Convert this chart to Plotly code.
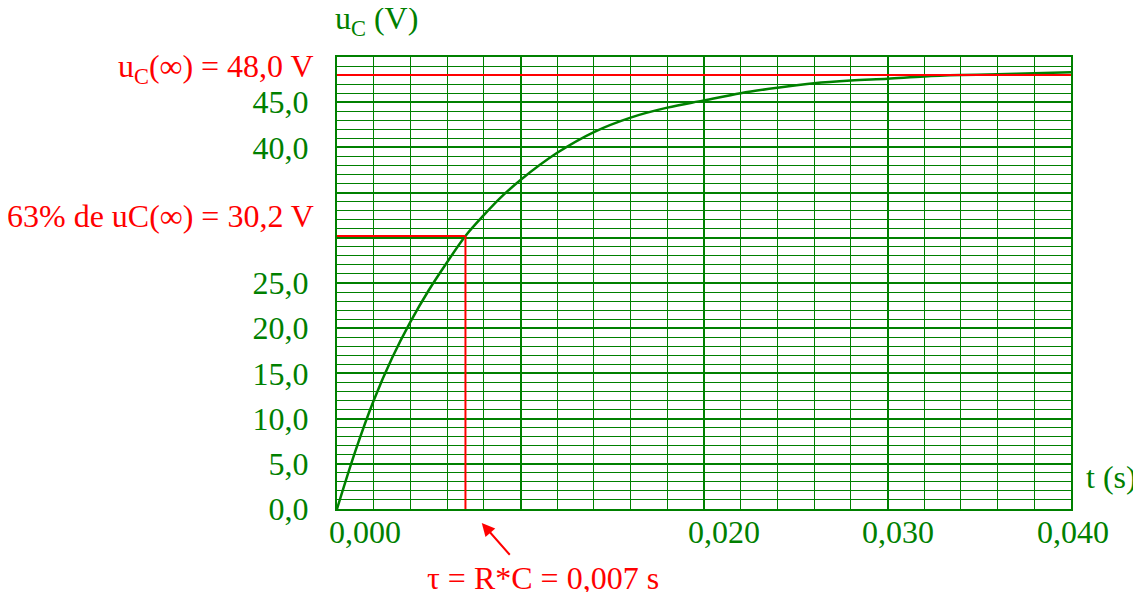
import plotly.graph_objects as go

# --- data ---
t_s = [0.000, 0.001, 0.002, 0.003, 0.004, 0.005, 0.006, 0.007, 0.008, 0.009,
       0.010, 0.012, 0.014, 0.016, 0.018, 0.020, 0.022, 0.024, 0.026, 0.028,
       0.030, 0.032, 0.034, 0.036, 0.038, 0.040]
uc_v = [0.0, 6.4, 12.0, 16.7, 20.7, 24.2, 27.3, 30.2, 32.5, 34.6,
        36.4, 39.4, 41.7, 43.3, 44.4, 45.2, 46.0, 46.6, 47.1, 47.4,
        47.6, 47.85, 48.0, 48.1, 48.2, 48.3]

u_final = 48.0
u_63 = 30.2
tau = 0.007

x_tick_vals = [0.000, 0.020, 0.030, 0.040]
x_tick_text = ["0,000", "0,020", "0,030", "0,040"]
y_tick_vals = [0, 5, 10, 15, 20, 25, 30, 35, 40, 45, 50]
y_tick_text = ["0,0", "5,0", "10,0", "15,0", "20,0", "25,0", "", "", "40,0", "45,0", ""]

GREEN = "#008000"
RED = "#ff0000"
FONT = "Liberation Serif"
FS = 32

fig = go.Figure()
fig.add_trace(go.Scatter(x=t_s, y=uc_v, mode="lines",
                         line=dict(color=GREEN, width=2.5, shape="spline"),
                         hoverinfo="skip", showlegend=False))

# red guide lines
fig.add_shape(type="line", x0=0, x1=0.0402, y0=u_final, y1=u_final,
              line=dict(color=RED, width=2), layer="above")
fig.add_shape(type="line", x0=0, x1=tau, y0=u_63, y1=u_63,
              line=dict(color=RED, width=2), layer="above")
fig.add_shape(type="line", x0=tau, x1=tau, y0=0, y1=u_63,
              line=dict(color=RED, width=2), layer="above")

# red labels
fig.add_annotation(text="u<sub>C</sub>(∞) = 48,0 V", xref="paper", x=0, y=u_final,
                   xanchor="right", yanchor="middle", xshift=-21, yshift=7,
                   showarrow=False, font=dict(family=FONT, size=FS, color=RED))
fig.add_annotation(text="63% de uC(∞) = 30,2 V", xref="paper", x=0, y=u_63,
                   xanchor="right", yanchor="middle", xshift=-21, yshift=20,
                   showarrow=False, font=dict(family=FONT, size=FS, color=RED))

# tau arrow (head just below the axis, pointing up-left) and label
fig.add_annotation(text=" ", x=0.00789, y=0, xref="x", yref="paper", yshift=-14,
                   ax=30, ay=34, showarrow=True, arrowhead=2, arrowsize=1.3,
                   arrowwidth=2, standoff=0, startstandoff=0, arrowcolor=RED,
                   font=dict(size=2))
fig.add_annotation(text="τ = R*C = 0,007 s", xref="x", yref="paper", x=0.01125, y=0,
                   xanchor="center", yanchor="top", yshift=-49, showarrow=False,
                   font=dict(family=FONT, size=FS, color=RED))

# x tick labels (placed as in the reference)
x_label_shift = [28, 20, 10, 2]
for v, txt, sh in zip(x_tick_vals, x_tick_text, x_label_shift):
    fig.add_annotation(text=txt, x=v, xref="x", yref="paper", y=0,
                       xanchor="center", yanchor="top", xshift=sh, yshift=-3,
                       showarrow=False, font=dict(family=FONT, size=FS, color=GREEN))

# axis titles
fig.add_annotation(text="u<sub>C</sub> (V)", xref="paper", yref="paper", x=0, y=1,
                   xanchor="left", yanchor="bottom", xshift=-4, yshift=14,
                   showarrow=False, font=dict(family=FONT, size=FS, color=GREEN))
fig.add_annotation(text="t (s)", xref="paper", yref="y", x=1, y=3.5,
                   xanchor="left", yanchor="middle", xshift=13,
                   showarrow=False, font=dict(family=FONT, size=FS, color=GREEN))

fig.update_xaxes(range=[0, 0.04], dtick=0.01, tick0=0,
                 showgrid=True, gridcolor=GREEN, gridwidth=2,
                 minor=dict(dtick=0.002, tick0=0, showgrid=True, gridcolor=GREEN, gridwidth=1),
                 showticklabels=False, ticks="", zeroline=False,
                 showline=True, linecolor=GREEN, linewidth=2, mirror=True)
fig.update_yaxes(range=[0, 50], tickvals=y_tick_vals, ticktext=y_tick_text,
                 showgrid=True, gridcolor=GREEN, gridwidth=2,
                 minor=dict(dtick=1, tick0=0, showgrid=True, gridcolor=GREEN, gridwidth=1),
                 ticks="", ticklabelstandoff=20, zeroline=False,
                 tickfont=dict(family=FONT, size=FS, color=GREEN),
                 showline=True, linecolor=GREEN, linewidth=2, mirror=True)

# page body has an 8px margin, so the figure is sized to fit the window from there
fig.update_layout(width=1133, height=584,
                  margin=dict(l=329, r=70, t=49, b=83),
                  paper_bgcolor="white", plot_bgcolor="white",
                  font=dict(family=FONT, size=FS, color=GREEN))

fig.write_html("out.html")
